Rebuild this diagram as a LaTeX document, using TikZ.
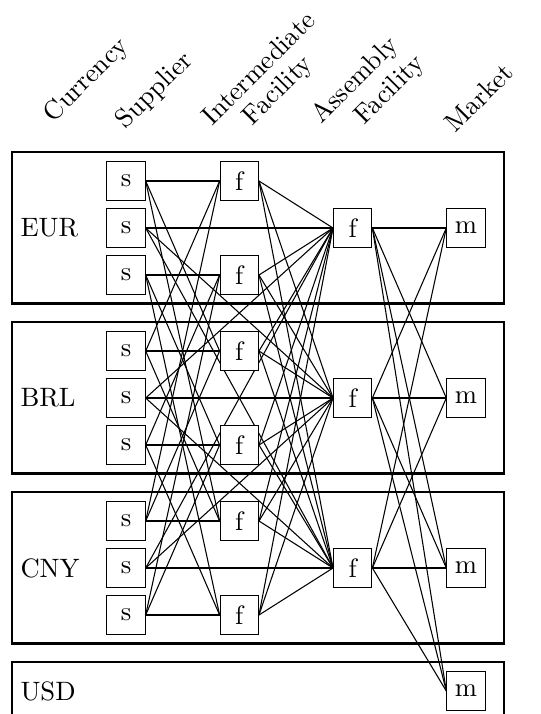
\documentclass[tikz,border=0pt]{standalone}
\pgfdeclarelayer{edges}
\pgfsetlayers{edges,main}
\begin{document}
\begin{tikzpicture}[x=0.376pt,y=-0.376pt,
  site/.style={draw, fill=white, minimum size=14.4pt, inner sep=0pt},
  region/.style={draw, thick},
  flow/.style={draw, line width=0.4pt},
  head/.style={rotate=45, inner sep=0pt},
  cur/.style={anchor=west, inner sep=0pt}]
\useasboundingbox (0,0) rectangle (540,714);
\clip (0,0) rectangle (540,714);

% column headings
\node[head] (h-cur) at (86.7,80.5) {Currency};
\node[head] (h-sup) at (155,91) {Supplier};
\node[head] (h-int1) at (258.3,67.8) {Intermediate};
\node[head] (h-int2) at (278.7,91) {Facility};
\node[head] (h-asm1) at (355.5,81) {Assembly};
\node[head] (h-asm2) at (390,90.8) {Facility};
\node[head] (h-mkt) at (478.7,97.8) {Market};

% one region per currency with its sites
\foreach \g/\c in {1/EUR,2/BRL,3/CNY}{
  \pgfmathsetmacro\yt{152+170*(\g-1)}
  \pgfmathsetmacro\ya{181+170*(\g-1)}
  \pgfmathsetmacro\yb{228+170*(\g-1)}
  \pgfmathsetmacro\yc{275+170*(\g-1)}
  \draw[region] (12,\yt) rectangle (504,{\yt+151.5});
  \node[cur] (cur-\g) at (20,\yb) {\c};
  \node[site] (s-\g-1) at (126,\ya) {s};
  \node[site] (s-\g-2) at (126,\yb) {s};
  \node[site] (s-\g-3) at (126,\yc) {s};
  \node[site] (i-\g-1) at (239.3,\ya) {f};
  \node[site] (i-\g-3) at (239.3,\yc) {f};
  \node[site] (a-\g) at (352.7,\yb) {f};
  \node[site] (m-\g) at (466,\yb) {m};
}
\draw[region] (12,662) rectangle (504,813.5);
\node[cur] (cur-4) at (20,691) {USD};
\node[site] (m-4) at (466,691) {m};

% flows
\begin{pgfonlayer}{edges}
\foreach \g in {1,2,3}{
  \foreach \h in {1,2,3}{
    \draw[flow] (s-\g-1.east) -- (i-\h-1.west);
    \draw[flow] (s-\g-3.east) -- (i-\h-3.west);
    \draw[flow] (s-\g-2.east) -- (a-\h.west);
    \draw[flow] (i-\g-1.east) -- (a-\h.west);
    \draw[flow] (i-\g-3.east) -- (a-\h.west);
  }
  \foreach \h in {1,...,4}{
    \draw[flow] (a-\g.east) -- (m-\h.west);
  }
}
\end{pgfonlayer}
\end{tikzpicture}
\end{document}
